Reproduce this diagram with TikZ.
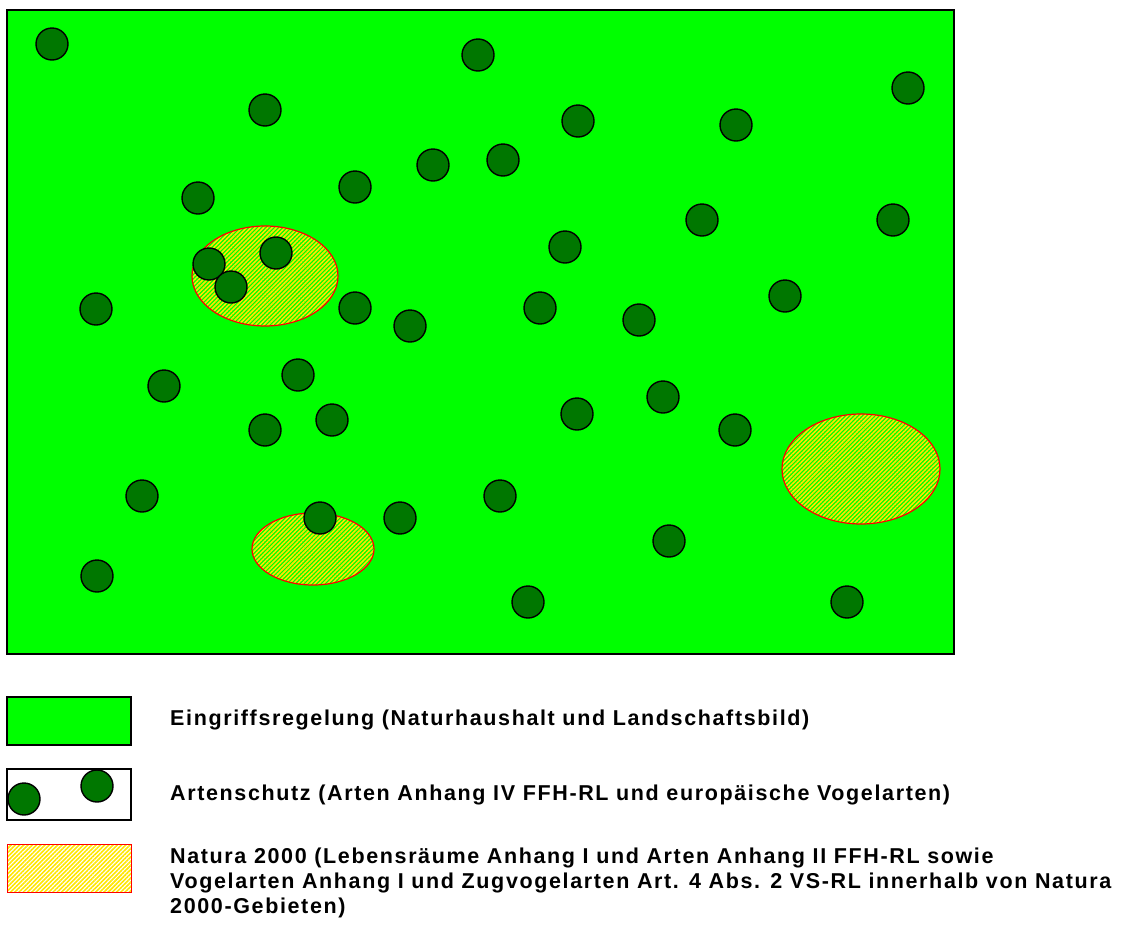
\documentclass[tikz,border=0pt]{standalone}
\usepackage{fontspec}
\setmainfont{Liberation Sans}
\newfontfamily\legfont[LetterSpace=7.6]{Liberation Sans}
\usetikzlibrary{patterns.meta}
\definecolor{bg}{RGB}{0,255,0}
\definecolor{tree}{RGB}{0,119,0}
\definecolor{hatch}{RGB}{255,230,0}
\tikzset{
  tree/.style={circle,draw=black,line width=1.4pt,fill=tree,minimum size=32pt,inner sep=0pt},
  natura/.style={draw=red,line width=1.2pt,pattern={Lines[angle=45,distance=3pt,line width=1.6pt]},pattern color=hatch},
  legtext/.style={anchor=west,font=\legfont\bfseries\fontsize{21.5}{25}\selectfont,align=left,inner sep=0pt}
}
\begin{document}
\begin{tikzpicture}[x=1pt,y=-1pt]
\useasboundingbox (0,0) rectangle (1124,924);
% main area
\path[draw=black,line width=1.4pt,fill=bg] (7,10) rectangle (954,654);
% Natura 2000 areas
\path[natura] (265,276) ellipse [x radius=73,y radius=50];
\path[natura] (313,549) ellipse [x radius=61,y radius=36];
\path[natura] (861,469) ellipse [x radius=79,y radius=55];
% trees
\foreach \n/\x/\y in {t1/52/44, t2/478/55, t3/265/110, t4/908/88, t5/578/121, t6/736/125,
  t7/433/165, t8/503/160, t9/355/187, t10/198/198, t11/702/220, t12/893/220, t13/565/247,
  t14/276/253, t15/209/264, t16/231/287, t17/96/309, t18/355/308, t19/410/326, t20/540/308,
  t21/639/320, t22/785/296, t23/164/386, t24/298/375, t25/265/430, t26/332/420, t27/577/414,
  t28/663/397, t29/735/430, t30/142/496, t31/320/518, t32/400/518, t33/500/496, t34/669/541,
  t35/97/576, t36/528/602, t37/847/602}
  \node[tree] (\n) at (\x,\y) {};
% legend
\path[draw=black,line width=1.2pt,fill=bg] (7,697) rectangle (131,745);
\path[draw=black,line width=1.2pt,fill=white] (7,769) rectangle (131,820);
\node[tree] (l1) at (24,799) {};
\node[tree] (l2) at (97,786) {};
\path[natura,line width=1pt] (7,844) rectangle (131,892);
\node[legtext] (e1) at (170,720) {Eingriffsregelung (Naturhaushalt und Landschaftsbild)};
\node[legtext] (e2) at (170,795) {Artenschutz (Arten Anhang IV FFH-RL und europäische Vogelarten)};
\node[legtext,anchor=north west] (e3) at (170,848) {Natura 2000 (Lebensräume Anhang I und Arten Anhang II FFH-RL sowie\\Vogelarten Anhang I und Zugvogelarten Art. 4 Abs. 2 VS-RL innerhalb von Natura\\2000-Gebieten)};
\end{tikzpicture}
\end{document}
